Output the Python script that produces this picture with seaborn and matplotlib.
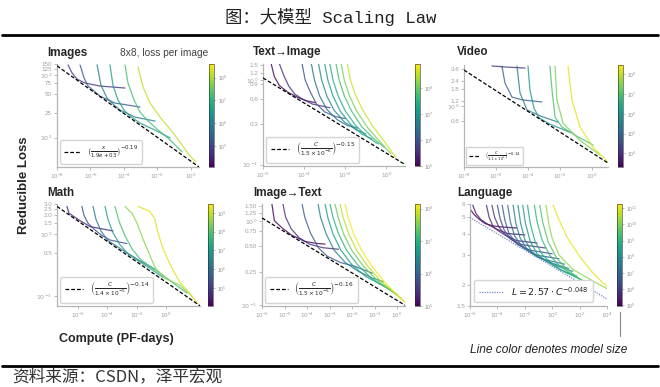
import numpy as np
import pandas as pd
import matplotlib
matplotlib.use("Agg")
import matplotlib.pyplot as plt
import seaborn as sns
from matplotlib.colors import LogNorm
from matplotlib.cm import ScalarMappable
from matplotlib.lines import Line2D
from matplotlib.ticker import NullLocator

# x values are log10(compute, PF-days), y values are reducible loss,
# size values are log10(model parameters) -> line colour

# ---- Images 8x8 ----
images_size = [4.76, 5.35, 5.98, 6.57, 7.24, 8.15]
images_logc = [
    [-7.34, -7.10, -6.80, -6.32, -5.43, -3.93],
    [-6.62, -6.38, -6.14, -5.78, -5.43, -4.53, -3.03],
    [-5.60, -5.37, -5.01, -4.65, -4.23, -3.33, -2.13],
    [-4.83, -4.65, -4.35, -3.99, -3.63, -3.03, -2.13, -1.23],
    [-3.93, -3.75, -3.39, -3.03, -2.61, -2.01, -1.23, -0.51],
    [-3.15, -2.85, -2.43, -1.83, -1.05, -0.51, -0.04, 0.32],
]
images_loss = [
    [145, 108, 86, 74.5, 66.7, 62],
    [145, 89.5, 66.7, 55.5, 46, 35.7, 30.8],
    [145, 69, 43, 34.5, 27.6, 21.3, 18.4],
    [145, 69, 40, 27.6, 22.1, 17.1, 13.2, 9.9],
    [145, 74.5, 40, 25.6, 19.1, 13.7, 9.2, 5.9],
    [134, 64.3, 35.7, 21.3, 11.9, 7.6, 5.1, 4.1],
]
images_fit_logc = [-8.0, 0.5]
images_fit_loss = [140.0, 3.4]

# ---- Text -> Image ----
t2i_size = [5.0, 5.5, 6.0, 6.4, 6.8, 7.1, 7.4, 7.7, 8.1, 8.6]
t2i_logc = [
    [-5.6, -5.45, -5.2, -4.8, -4.3, -3.9, -3.45],
    [-5.2, -5.0, -4.75, -4.45, -4.1, -3.6, -3.1, -2.75],
    [-4.1, -3.95, -3.7, -3.4, -3.0, -2.5, -2.0],
    [-3.65, -3.5, -3.25, -2.9, -2.4, -1.9, -1.4],
    [-3.3, -3.15, -2.9, -2.55, -2.05, -1.5, -1.0],
    [-3.0, -2.85, -2.6, -2.25, -1.75, -1.2, -0.7],
    [-2.75, -2.6, -2.35, -2.0, -1.5, -0.9, -0.4],
    [-2.45, -2.3, -2.05, -1.7, -1.2, -0.6, -0.1],
    [-2.2, -2.05, -1.8, -1.45, -0.95, -0.35, 0.2],
    [-1.9, -1.75, -1.5, -1.15, -0.65, -0.05, 0.45],
]
t2i_loss = [
    [1.55, 1.1, 0.86, 0.72, 0.62, 0.57, 0.54],
    [1.55, 1.15, 0.85, 0.68, 0.6, 0.52, 0.49, 0.47],
    [1.55, 1.0, 0.72, 0.52, 0.42, 0.37, 0.35],
    [1.55, 1.0, 0.65, 0.45, 0.34, 0.29, 0.27],
    [1.55, 1.0, 0.65, 0.44, 0.32, 0.26, 0.23],
    [1.55, 1.0, 0.65, 0.43, 0.30, 0.23, 0.20],
    [1.55, 1.0, 0.65, 0.43, 0.29, 0.21, 0.175],
    [1.55, 1.0, 0.65, 0.43, 0.28, 0.20, 0.16],
    [1.55, 1.0, 0.65, 0.43, 0.28, 0.19, 0.135],
    [1.55, 1.0, 0.66, 0.44, 0.28, 0.18, 0.12],
]
t2i_fit_logc = [-6.0, 0.9]
t2i_fit_loss = [1.06, 0.1]

# ---- Video ----
video_size = [4.08, 4.86, 5.48, 6.0, 6.94, 7.46, 8.24]
video_logc = [
    [-6.25, -5.44, -4.19],
    [-5.63, -5.44, -5.0, -4.31, -3.13],
    [-4.69, -4.5, -4.06, -3.25, -2.13],
    [-4.0, -3.88, -3.63, -3.3, -2.63, -1.38],
    [-2.63, -2.5, -2.31, -1.88, -1.06, 0.06],
    [-2.31, -2.19, -1.81, -0.75, 0.5],
    [-1.5, -1.25, -0.75, 0.06, 1.0],
]
video_loss = [
    [3.99, 3.86, 3.72],
    [3.99, 2.22, 1.37, 1.24, 1.16],
    [3.99, 1.58, 0.88, 0.72, 0.58],
    [3.99, 1.75, 0.94, 0.67, 0.54, 0.41],
    [3.99, 1.75, 0.69, 0.49, 0.37, 0.264],
    [3.99, 1.24, 0.56, 0.31, 0.187],
    [3.99, 1.24, 0.49, 0.246, 0.147],
]
video_fit_logc = [-8.0, 1.0]
video_fit_loss = [3.47, 0.142]

# ---- Math ----
math_size = [4.58, 5.4, 6.22, 7.03, 7.85, 8.5, 9.21]
math_logc = [
    [-6.77, -6.63, -6.35, -5.94, -5.19, -3.61],
    [-5.74, -5.6, -5.33, -4.92, -4.44, -3.82, -2.66],
    [-4.98, -4.78, -4.44, -3.96, -3.41, -2.79, -1.77, -0.74],
    [-4.16, -3.96, -3.61, -3.13, -2.59, -1.9, -1.08, -0.19],
    [-3.48, -3.2, -2.79, -2.31, -1.77, -1.08, -0.19, 0.63, 1.45],
    [-2.79, -2.31, -1.97, -1.56, -1.08, -0.74, -0.05, 0.97, 1.8],
    [-1.9, -1.08, -0.74, -0.53, -0.19, 0.43, 0.97, 1.45, 2.21],
]
math_loss = [
    [2.79, 2.16, 1.95, 1.68, 1.32, 1.12],
    [2.79, 2.0, 1.5, 1.2, 0.97, 0.80, 0.70],
    [2.79, 1.73, 1.12, 0.78, 0.65, 0.52, 0.37, 0.27],
    [2.79, 1.73, 1.04, 0.67, 0.48, 0.37, 0.28, 0.20],
    [2.79, 1.61, 0.93, 0.58, 0.40, 0.30, 0.216, 0.155, 0.112],
    [2.79, 2.16, 1.5, 0.83, 0.45, 0.29, 0.193, 0.15, 0.10],
    [2.79, 2.32, 1.73, 1.04, 0.58, 0.28, 0.167, 0.125, 0.075],
]
math_fit_logc = [-7.45, 2.35]
math_fit_loss = [2.79, 0.0695]

# ---- Image -> Text ----
i2t_size = [5.0, 5.4, 5.9, 6.3, 6.7, 7.0, 7.4, 7.8, 8.1]
i2t_logc = [
    [-5.56, -5.45, -5.1, -4.7, -4.1, -3.6, -3.2],
    [-5.07, -4.95, -4.7, -4.35, -3.9, -3.3, -2.6],
    [-4.22, -4.1, -3.85, -3.5, -3.1, -2.5, -1.9, -1.1],
    [-3.51, -3.4, -3.15, -2.8, -2.3, -1.7, -1.1, -0.6],
    [-3.2, -3.08, -2.85, -2.5, -2.0, -1.4, -0.8, -0.3],
    [-2.98, -2.85, -2.6, -2.25, -1.75, -1.15, -0.55, 0.0],
    [-2.76, -2.62, -2.38, -2.02, -1.5, -0.9, -0.3, 0.2],
    [-2.53, -2.4, -2.15, -1.8, -1.3, -0.7, -0.1, 0.3],
    [-2.31, -2.18, -1.93, -1.58, -1.08, -0.5, 0.05, 0.35],
]
i2t_loss = [
    [1.58, 1.0, 0.82, 0.68, 0.57, 0.54, 0.53],
    [1.58, 1.1, 0.8, 0.63, 0.53, 0.48, 0.46],
    [1.58, 1.1, 0.72, 0.48, 0.38, 0.32, 0.29, 0.24],
    [1.58, 1.1, 0.7, 0.45, 0.32, 0.25, 0.21, 0.19],
    [1.58, 1.1, 0.7, 0.45, 0.30, 0.22, 0.18, 0.155],
    [1.58, 1.1, 0.7, 0.45, 0.30, 0.21, 0.165, 0.135],
    [1.58, 1.1, 0.7, 0.45, 0.29, 0.20, 0.15, 0.12],
    [1.58, 1.1, 0.7, 0.45, 0.29, 0.19, 0.14, 0.112],
    [1.58, 1.1, 0.7, 0.45, 0.28, 0.18, 0.13, 0.108],
]
i2t_fit_logc = [-6.0, 0.35]
i2t_fit_loss = [1.08, 0.1]

# ---- Language ----
lang_size = [5.0, 5.3, 5.6, 5.9, 6.3, 6.7, 7.1, 7.5, 7.9, 8.3, 8.7, 9.1, 9.5, 10.2, 11.0]
lang_logc = [
    [-6.0, -5.7, -5.3, -4.9, -4.3, -3.5, -2.6],
    [-5.8, -5.55, -5.2, -4.7, -4.1, -3.3, -2.0],
    [-4.8, -4.6, -4.3, -3.9, -3.4, -2.6, -1.1],
    [-4.4, -4.2, -3.9, -3.5, -3.0, -2.2, -0.5],
    [-4.0, -3.8, -3.5, -3.1, -2.5, -1.6, 0.0],
    [-3.65, -3.45, -3.15, -2.7, -2.1, -1.2, 0.5],
    [-3.25, -3.05, -2.75, -2.3, -1.7, -0.8, 0.9],
    [-2.85, -2.65, -2.35, -1.9, -1.3, -0.4, 1.2],
    [-2.5, -2.3, -2.0, -1.5, -0.9, 0.0, 1.5],
    [-2.15, -1.95, -1.6, -1.1, -0.4, 0.6, 1.8],
    [-1.8, -1.6, -1.25, -0.7, 0.0, 1.0, 2.1],
    [-1.3, -1.1, -0.75, -0.2, 0.5, 1.5, 2.5],
    [-0.9, -0.7, -0.3, 0.3, 1.0, 2.0, 3.0],
    [-0.45, -0.25, 0.0, 0.5, 1.5, 3.0, 4.0],
    [0.06, 0.42, 1.08, 2.03, 2.98, 3.71, 4.0],
]
lang_loss = [
    [5.6, 5.2, 4.85, 4.6, 4.45, 4.38, 4.33],
    [5.9, 5.25, 4.85, 4.55, 4.28, 4.02, 3.94],
    [5.9, 5.0, 4.4, 4.15, 3.92, 3.65, 3.53],
    [5.9, 5.0, 4.4, 4.0, 3.7, 3.45, 3.3],
    [5.9, 4.9, 4.2, 3.8, 3.45, 3.2, 3.05],
    [5.9, 4.8, 4.0, 3.6, 3.3, 3.0, 2.85],
    [5.9, 4.7, 3.9, 3.45, 3.15, 2.85, 2.65],
    [5.9, 4.6, 3.8, 3.3, 3.0, 2.75, 2.5],
    [5.9, 4.6, 3.7, 3.15, 2.9, 2.65, 2.4],
    [5.9, 4.6, 3.6, 3.05, 2.75, 2.45, 2.25],
    [5.9, 4.6, 3.6, 3.0, 2.66, 2.36, 2.15],
    [5.9, 4.7, 3.7, 3.0, 2.6, 2.28, 2.05],
    [5.9, 4.7, 3.6, 2.9, 2.5, 2.17, 1.95],
    [5.9, 4.6, 3.75, 3.0, 2.47, 2.1, 1.9],
    [5.9, 5.0, 3.83, 2.92, 2.35, 2.05, 1.97],
]
lang_fit_logc = [-6.0, 4.0]
lang_fit_loss = [4.99, 1.65]

W, H = 660, 387

sns.set_style("ticks")
plt.rcParams["font.family"] = ["Liberation Sans", "DejaVu Sans"]

fig = plt.figure(figsize=(W / 100, H / 100), dpi=100)


def box(left, top, right, bottom):
    return [left / W, 1 - bottom / H, (right - left) / W, (bottom - top) / H]


def curves_frame(logc, loss, size):
    rows = []
    for i, (xs, ys) in enumerate(zip(logc, loss)):
        for x, y in zip(xs, ys):
            rows.append((10.0 ** x, y, i, 10.0 ** size[i]))
    return pd.DataFrame(rows, columns=["compute", "loss", "curve", "params"])


dash_kw = dict(color="black", linestyle=(0, (3, 1.6)), linewidth=0.9)
dot_kw = dict(color="#7d88c9", linestyle=(0, (1, 1)), linewidth=0.9)


def draw_panel(rect, crect, logc, loss, size, fit_logc, fit_loss,
               cbar_range, cbar_ticks, xlim, ylim, xticks, yticks, ylabels,
               fit_label, legend_fs, fit_kw, handlelength=2.2):
    ax = fig.add_axes(box(*rect))
    cax = fig.add_axes(box(*crect))
    norm = LogNorm(*cbar_range)
    df = curves_frame(logc, loss, size)
    sns.lineplot(data=df, x="compute", y="loss", hue="params", units="curve",
                 estimator=None, sort=False, palette="viridis", hue_norm=norm,
                 legend=False, linewidth=0.9, alpha=0.8, ax=ax)
    ax.plot(np.power(10.0, fit_logc), fit_loss, zorder=3, **fit_kw)
    ax.set_xscale("log")
    ax.set_yscale("log")
    ax.set_xlim(10.0 ** xlim[0], 10.0 ** xlim[1])
    ax.set_ylim(*ylim)
    ax.set_xticks(xticks)
    ax.set_yticks(yticks, labels=ylabels)
    ax.xaxis.set_minor_locator(NullLocator())
    ax.yaxis.set_minor_locator(NullLocator())
    ax.set_xlabel("")
    ax.set_ylabel("")
    ax.tick_params(labelsize=4.5, colors="#a0a0a0", length=2, width=0.5, pad=1.5)
    sns.despine(ax=ax)
    for s in ("left", "bottom"):
        ax.spines[s].set_color("#b5b5b5")
        ax.spines[s].set_linewidth(0.9)
    handle = Line2D([], [], **fit_kw)
    ax.legend([handle], [fit_label], loc="lower left", fontsize=legend_fs,
              handlelength=handlelength, frameon=True, fancybox=True,
              edgecolor="#d5d5d5", framealpha=1, borderpad=0.5, borderaxespad=0.4)
    cb = fig.colorbar(ScalarMappable(norm=norm, cmap="viridis"), cax=cax)
    cb.set_ticks(cbar_ticks)
    cb.ax.minorticks_off()
    cb.ax.tick_params(labelsize=3.6, colors="#909090", length=1.5, width=0.4, pad=1.5)
    cb.outline.set_linewidth(0.4)
    return ax


draw_panel((57, 64, 199, 167), (209, 64, 214, 167),
           images_logc, images_loss, images_size, images_fit_logc, images_fit_loss,
           (1.2e4, 4e8), [1e5, 1e6, 1e7, 1e8], (-8, 0.5), (3.4, 150),
           [1e-8, 1e-6, 1e-4, 1e-2, 1],
           [10, 25, 50, 75, 100, 125, 150],
           ["$10^1$", "25", "50", "75", "$10^2$", "125", "150"],
           r"$\left(\frac{x}{1.9e+03}\right)^{-0.19}$", 5.5, dash_kw)

draw_panel((263, 64, 405, 166), (415, 64, 420, 166),
           t2i_logc, t2i_loss, t2i_size, t2i_fit_logc, t2i_fit_loss,
           (1e5, 8.5e8), [1e5, 1e6, 1e7, 1e8], (-6, 0.9), (0.096, 1.55),
           [1e-6, 1e-4, 1e-2, 1],
           [0.1, 0.3, 0.6, 0.9, 1.0, 1.2, 1.5],
           ["$10^{-1}$", "0.3", "0.6", "0.9", "$10^0$", "1.2", "1.5"],
           r"$\left(\frac{C}{1.5\times10^{-6}}\right)^{-0.15}$", 6, dash_kw)

draw_panel((464, 65, 608, 167), (618, 65, 623, 167),
           video_logc, video_loss, video_size, video_fit_logc, video_fit_loss,
           (2e3, 3e8), [1e4, 1e5, 1e6, 1e7, 1e8], (-8, 1.0), (0.124, 4.13),
           [1e-8, 1e-6, 1e-4, 1e-2, 1],
           [0.6, 1.0, 1.2, 1.8, 2.4, 3.6],
           ["0.6", "$10^0$", "1.2", "1.8", "2.4", "3.6"],
           r"$\left(\frac{C}{1.1\times10^{1}}\right)^{-0.14}$", 3.8, dash_kw)

draw_panel((57, 204, 200, 306), (208, 204, 213, 306),
           math_logc, math_loss, math_size, math_fit_logc, math_fit_loss,
           (1.1e4, 3e9), [1e5, 1e6, 1e7, 1e8, 1e9], (-7.45, 2.35), (0.069, 3.05),
           [1e-6, 1e-4, 1e-2, 1],
           [0.1, 0.5, 1.0, 1.5, 2.0, 2.5, 3.0],
           ["$10^{-1}$", "0.5", "$10^0$", "1.5", "2.0", "2.5", "3.0"],
           r"$\left(\frac{C}{1.4\times10^{-5}}\right)^{-0.14}$", 6, dash_kw)

draw_panel((262, 204, 405, 306), (415, 204, 420, 306),
           i2t_logc, i2t_loss, i2t_size, i2t_fit_logc, i2t_fit_loss,
           (1e5, 1.4e8), [1e5, 1e6, 1e7, 1e8], (-6, 0.35), (0.098, 1.58),
           [1e-6, 1e-5, 1e-4, 1e-3, 1e-2, 1e-1, 1],
           [0.1, 0.25, 0.5, 0.75, 1.0, 1.25, 1.5],
           ["$10^{-1}$", "0.25", "0.50", "0.75", "$10^0$", "1.25", "1.50"],
           r"$\left(\frac{C}{1.5\times10^{-5}}\right)^{-0.16}$", 6, dash_kw)

draw_panel((470, 204, 607, 306), (617, 204, 622, 306),
           lang_logc, lang_loss, lang_size, lang_fit_logc, lang_fit_loss,
           (9e4, 1.8e11), [1e5, 1e6, 1e7, 1e8, 1e9, 1e10, 1e11], (-6, 4), (1.5, 6),
           [1e-6, 1e-4, 1e-2, 1, 1e2, 1e4],
           [1.5, 2, 3, 4, 5, 6],
           ["1.5", "2", "3", "4", "5", "6"],
           r"$L = 2.57 \cdot C^{-0.048}$", 6.8, dot_kw, handlelength=2.6)


def ftext(x, y, s, **kw):
    fig.text(x / W, 1 - y / H, s, **kw)


# panel titles
for (x, y), name in zip([(47, 53), (253, 52), (457, 52), (47, 193), (253, 193), (457, 193)],
                        ["Images", "Text\u2192Image", "Video", "Math", "Image\u2192Text", "Language"]):
    ftext(x, y, name, fontsize=8.4, fontweight="bold", ha="left", va="center")
ftext(120, 53, "8x8, loss per image", fontsize=7.3, color="#444444", ha="left", va="center")

ftext(24, 185, "Reducible Loss", fontsize=9.5, fontweight="bold", rotation=90,
      ha="center", va="center")
ftext(59, 339, "Compute (PF-days)", fontsize=9, fontweight="bold", ha="left", va="center")
ftext(470, 350, "Line color denotes model size", fontsize=8.6, style="italic",
      ha="left", va="center", color="#222222")
fig.add_artist(Line2D([620 / W, 620 / W], [1 - 312 / H, 1 - 336 / H],
                      color="#888888", lw=0.8, transform=fig.transFigure))

# report header / footer
ftext(331, 17, "图：大模型 Scaling Law", fontsize=12.5, ha="center", va="center",
      family=["Liberation Mono", "Noto Sans CJK SC"], color="#222222")
fig.add_artist(Line2D([2 / W, 658 / W], [1 - 35 / H, 1 - 35 / H],
                      color="black", lw=2.0, transform=fig.transFigure))
fig.add_artist(Line2D([2 / W, 658 / W], [1 - 366 / H, 1 - 366 / H],
                      color="black", lw=2.0, transform=fig.transFigure))
ftext(12, 377, "资料来源：CSDN，泽平宏观", fontsize=12, ha="left", va="center",
      family=["Noto Sans CJK SC"], color="#333333")

fig.savefig("out.png", dpi=100)
